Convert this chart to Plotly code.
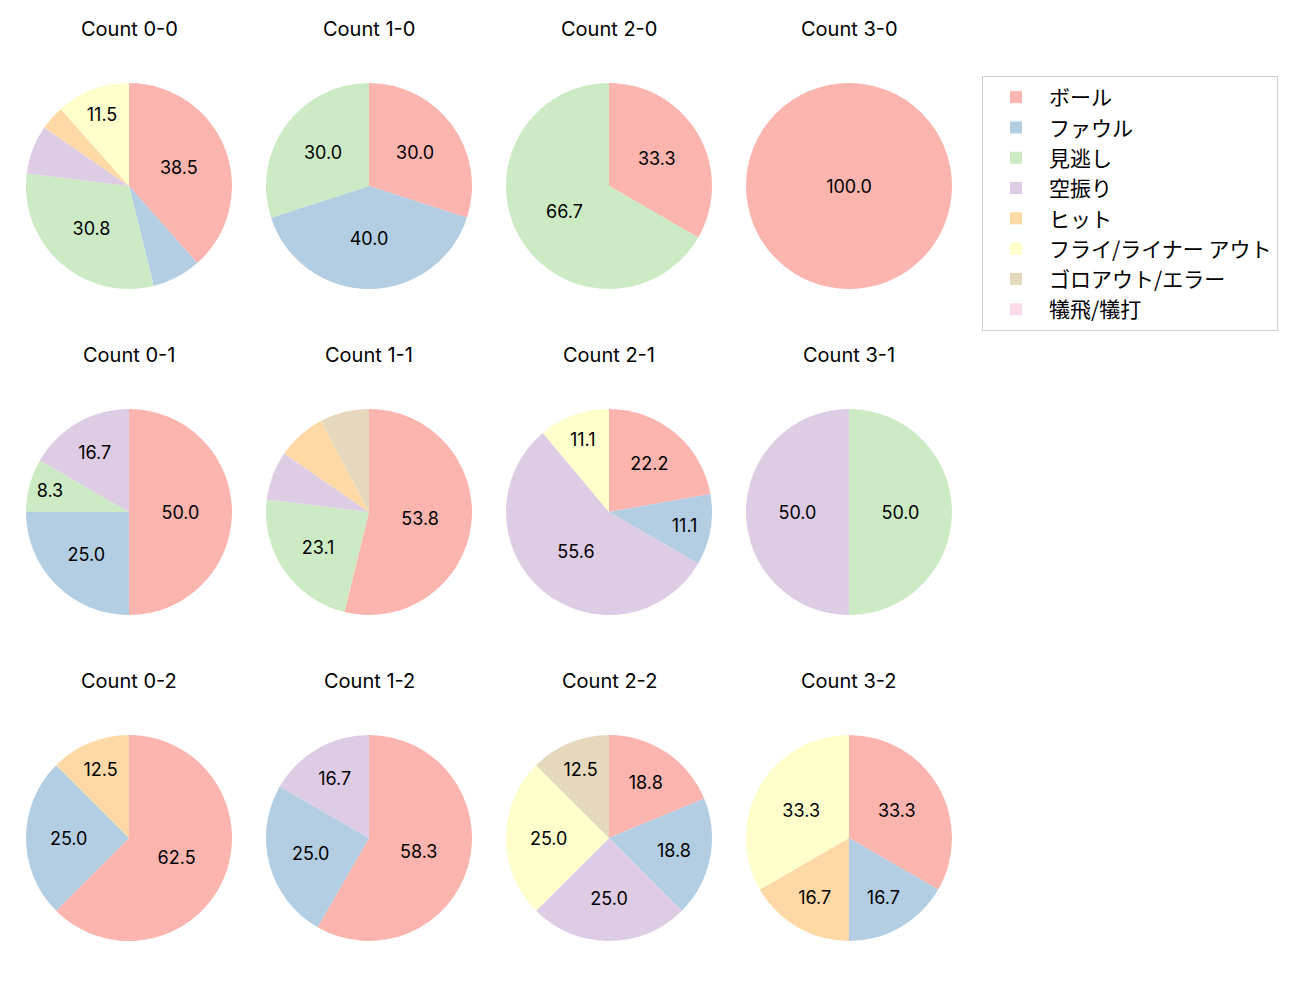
import plotly.graph_objects as go

# categories (legend order)
labels = ["ボール", "ファウル", "見逃し", "空振り", "ヒット",
          "フライ/ライナー アウト", "ゴロアウト/エラー", "犠飛/犠打"]
colors = ["#fbb4ae", "#b3cde3", "#ccebc5", "#decbe4",
          "#fed9a6", "#ffffcc", "#e5d8bd", "#fddaec"]

# pitch counts per ball-strike count, same order as labels
c_0_0 = [10, 2, 8, 2, 1, 3, 0, 0]
c_1_0 = [3, 4, 3, 0, 0, 0, 0, 0]
c_2_0 = [1, 0, 2, 0, 0, 0, 0, 0]
c_3_0 = [1, 0, 0, 0, 0, 0, 0, 0]
c_0_1 = [6, 3, 1, 2, 0, 0, 0, 0]
c_1_1 = [7, 0, 3, 1, 1, 0, 1, 0]
c_2_1 = [2, 1, 0, 5, 0, 1, 0, 0]
c_3_1 = [0, 0, 1, 1, 0, 0, 0, 0]
c_0_2 = [5, 2, 0, 0, 1, 0, 0, 0]
c_1_2 = [7, 3, 0, 2, 0, 0, 0, 0]
c_2_2 = [3, 3, 0, 4, 0, 4, 2, 0]
c_3_2 = [2, 1, 0, 0, 1, 2, 0, 0]

counts = {
    "0-0": c_0_0, "1-0": c_1_0, "2-0": c_2_0, "3-0": c_3_0,
    "0-1": c_0_1, "1-1": c_1_1, "2-1": c_2_1, "3-1": c_3_1,
    "0-2": c_0_2, "1-2": c_1_2, "2-2": c_2_2, "3-2": c_3_2,
}

W, H = 1300, 1000
col_x = [129, 369, 609, 849]
row_y = [186, 512, 838]
r = 103

fig = go.Figure()
annotations = []

for key, vals in counts.items():
    b, s = int(key[0]), int(key[2])
    cx, cy = col_x[b], row_y[s]
    tot = sum(vals)
    # small slices get no label, like the original autopct
    txt = [f"{v / tot * 100:.1f}" if v / tot * 100 >= 8 else "" for v in vals]
    fig.add_trace(go.Pie(
        labels=labels, values=vals, text=txt,
        texttemplate="%{text}", textposition="inside",
        insidetextorientation="horizontal",
        textfont=dict(family="Inter", size=18, color="black"),
        marker=dict(colors=colors, line=dict(width=0)),
        sort=False, direction="clockwise", rotation=0,
        domain=dict(x=[(cx - r) / W, (cx + r) / W],
                    y=[1 - (cy + r) / H, 1 - (cy - r) / H]),
        hoverinfo="label+value+percent",
    ))
    annotations.append(dict(
        text=f"Count {key}", x=cx / W, y=1 - (cy - 157) / H,
        xref="paper", yref="paper", xanchor="center", yanchor="middle",
        showarrow=False,
        font=dict(family="Inter", size=20, color="black"),
    ))

fig.update_layout(
    width=W, height=H,
    margin=dict(l=0, r=0, t=0, b=0),
    paper_bgcolor="white", plot_bgcolor="white",
    font=dict(family="Inter, Noto Sans CJK JP, sans-serif"),
    annotations=annotations,
    legend=dict(
        x=982 / W, y=1 - 76 / H, xanchor="left", yanchor="top",
        bordercolor="#d0d0d0", borderwidth=1,
        font=dict(family="Noto Sans CJK JP", size=21, color="black"),
        traceorder="normal", itemwidth=56,
    ),
)

fig.write_html("out.html", config={"displayModeBar": False},
               post_script="document.body.style.margin='0';")
